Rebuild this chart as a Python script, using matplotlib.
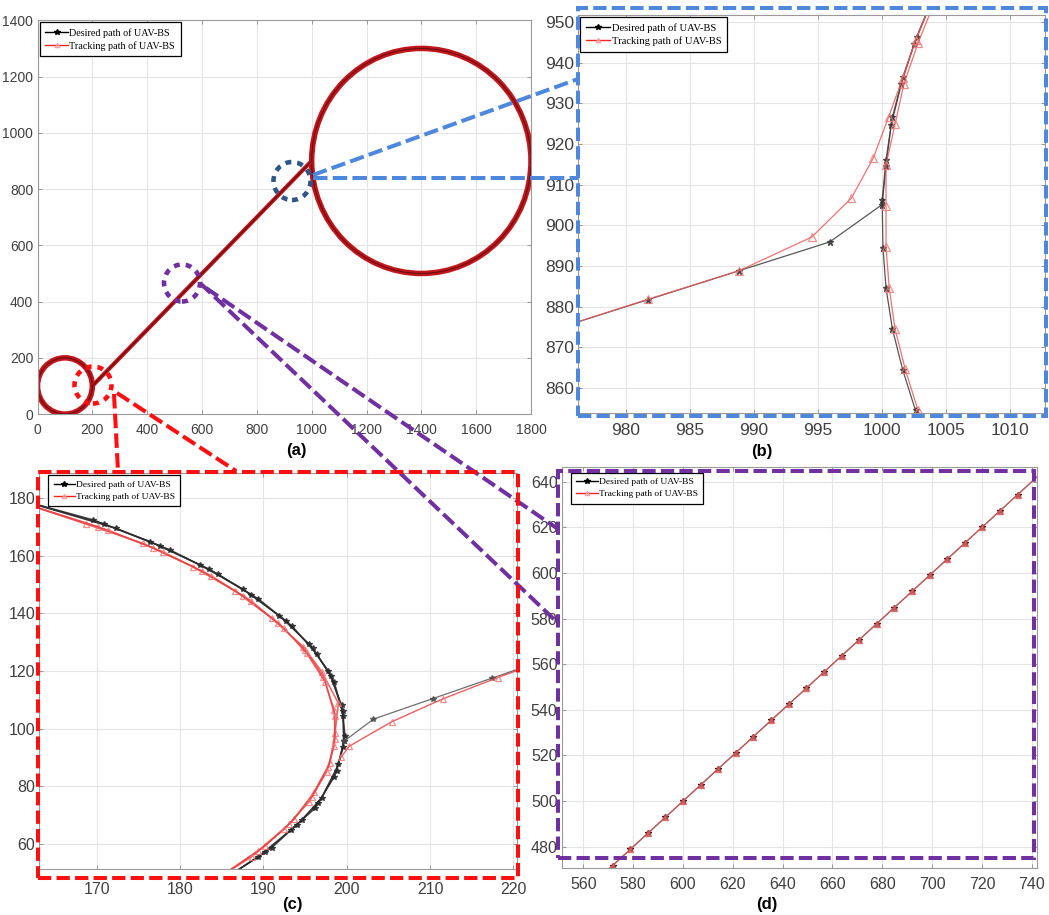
import matplotlib
matplotlib.use('Agg')
import matplotlib.pyplot as plt
from matplotlib.lines import Line2D
from matplotlib.patches import Circle, Ellipse, Rectangle

W, H = 1049, 915

# ---------------- panel (a): whole trajectory ----------------
small_circle = [100, 100, 100]      # centre x, centre y, radius
big_circle = [1400, 900, 400]
leg_x = [200, 1000]
leg_y = [100, 900]

# ---------------- panel (b): joining the big circle ----------------
b_des1_x = [974.6, 981.7, 988.8, 995.9, 1000.0, 1000.3, 1000.7, 1001.5, 1002.5, 1003.8]
b_des1_y = [874.6, 881.7, 888.8, 895.9, 905.1, 914.7, 924.6, 934.8, 944.6, 954.6]
b_des2_x = [1004.0, 1002.7, 1001.6, 1000.8, 1000.3, 1000.0, 1000.06, 1000.3, 1000.8, 1001.6, 1002.6, 1003.9]
b_des2_y = [956.4, 946.4, 936.4, 926.6, 916.1, 906.2, 894.5, 884.6, 874.5, 864.5, 854.5, 844.5]
b_trk1_x = [974.6, 981.7, 988.8, 994.5, 997.6, 999.3, 1000.5, 1001.6, 1002.6, 1003.9]
b_trk1_y = [874.6, 881.8, 888.8, 897.1, 906.7, 916.5, 926.6, 936.2, 945.5, 955.3]
b_trk2_x = [1004.1, 1002.8, 1001.7, 1001.0, 1000.3, 1000.3, 1000.3, 1000.55, 1001.0, 1001.8, 1002.8, 1004.0]
b_trk2_y = [955.0, 944.8, 934.8, 924.8, 914.9, 904.7, 894.6, 884.6, 874.6, 864.6, 854.5, 844.5]

# ---------------- panel (c): leaving the small circle ----------------
c_des_x = [
    [160.0, 169.6, 176.4, 182.4, 187.6, 191.9, 195.5, 197.8, 199.4, 199.8, 199.0, 197.0, 194.6, 191.0, 185.0],
    [160.0, 170.9, 177.6, 183.5, 188.5, 192.7, 195.9, 198.1, 199.5, 199.7, 198.8, 196.6, 194.0, 190.2, 185.0],
    [160.0, 172.3, 178.8, 184.5, 189.4, 193.4, 196.4, 198.5, 199.6, 199.6, 198.5, 196.2, 193.3, 189.3, 185.0],
]
c_des_y = [
    [180.0, 172.4, 164.9, 156.8, 148.3, 139.2, 129.3, 120.0, 108.1, 97.5, 87.6, 76.1, 68.3, 58.7, 47.3],
    [180.0, 171.0, 163.4, 155.3, 146.5, 137.4, 127.9, 118.4, 106.2, 95.7, 85.4, 74.1, 66.6, 57.1, 47.3],
    [180.0, 169.5, 162.0, 153.7, 145.0, 135.7, 125.9, 116.3, 104.4, 93.7, 83.3, 72.4, 64.9, 55.4, 47.3],
]
c_trk_x = [
    [159.5, 168.7, 175.5, 181.5, 186.6, 191.0, 194.8, 197.0, 199.0, 198.6, 198.0, 196.1, 193.7, 190.2, 184.5],
    [159.5, 170.1, 176.7, 182.6, 187.5, 191.8, 195.0, 197.2, 198.5, 198.6, 197.8, 195.8, 193.1, 189.4, 184.5],
    [159.5, 171.3, 177.9, 183.7, 188.5, 192.5, 195.2, 197.4, 198.6, 198.5, 197.6, 195.5, 192.5, 188.6, 184.5],
]
c_trk_y = [
    [179.8, 171.0, 164.3, 156.2, 147.8, 138.3, 128.4, 119.8, 108.8, 98.5, 88.2, 78.1, 68.6, 59.3, 48.0],
    [179.8, 170.1, 162.8, 154.7, 146.1, 136.6, 127.3, 118.0, 106.5, 96.5, 86.8, 76.4, 66.9, 57.7, 48.0],
    [179.8, 168.9, 161.4, 153.1, 144.4, 134.8, 126.1, 116.3, 104.4, 94.0, 85.1, 74.7, 65.1, 55.6, 48.0],
]
c_des_exit_x = [199.7, 203.2, 210.3, 217.4, 224.5]
c_des_exit_y = [95.7, 103.3, 110.4, 117.5, 124.6]
c_trk_exit_x = [199.3, 200.3, 205.4, 211.5, 218.1, 224.8]
c_trk_exit_y = [90.0, 93.9, 102.4, 110.3, 117.7, 124.8]

# ---------------- panel (d): straight leg ----------------
d_x = [564.6, 571.7, 578.8, 585.9, 592.9, 600.0, 607.1, 614.1, 621.2, 628.3, 635.4, 642.5, 649.5,
       656.6, 663.7, 670.7, 677.8, 684.8, 691.9, 699.0, 706.1, 713.1, 720.2, 727.3, 734.4, 748.5]
d_y = [464.6, 471.7, 478.8, 485.9, 492.9, 500.0, 507.1, 514.1, 521.2, 528.3, 535.4, 542.5, 549.5,
       556.6, 563.7, 570.7, 577.8, 584.8, 591.9, 599.0, 606.1, 613.1, 620.2, 627.3, 634.4, 648.5]

labels = ['Desired path of UAV-BS', 'Tracking path of UAV-BS']

plt.rcParams['font.family'] = 'Liberation Sans'

fig = plt.figure(figsize=(W / 100, H / 100), dpi=100)


def px_axes(x0, y0, x1, y1):
    return fig.add_axes([x0 / W, 1 - y1 / H, (x1 - x0) / W, (y1 - y0) / H])


def style(ax, xl, yl, xt, yt, fs, xpad):
    ax.set_xlim(xl)
    ax.set_ylim(yl)
    ax.set_xticks(xt)
    ax.set_yticks(yt)
    ax.grid(True, color='#e4e4e4', lw=0.8)
    ax.set_axisbelow(True)
    ax.tick_params(direction='in', length=3, width=0.6, colors='#8a8a8a',
                   labelcolor='#404040', labelsize=fs, top=True, right=True, pad=3)
    ax.tick_params(axis='x', pad=xpad)
    for s in ax.spines.values():
        s.set_color('#9a9a9a')
        s.set_linewidth(0.8)


def add_legend(ax, fs, anchor):
    h1 = Line2D([], [], color='k', lw=1, marker='*', ms=4)
    h2 = Line2D([], [], color='#ff2020', lw=1, marker='^', ms=3, mfc='none', mec='#f7a0a0')
    leg = ax.legend([h1, h2], labels, loc='upper left', bbox_to_anchor=anchor,
                    prop={'family': 'Liberation Serif', 'size': fs}, frameon=True,
                    fancybox=False, edgecolor='k', framealpha=1, handlelength=2.3,
                    handletextpad=0.1, borderpad=0.55, labelspacing=0.35, borderaxespad=0.2)
    leg.get_frame().set_linewidth(0.9)


# (a)
ax_a = px_axes(37.5, 20.3, 531, 414.1)
style(ax_a, (0, 1800), (0, 1400), range(0, 1801, 200), range(0, 1401, 200), 10, 6.5)
for cx, cy, r in [small_circle, big_circle]:
    ax_a.add_patch(Circle((cx, cy), r, fill=False, ec='#c0161c', lw=4.0))
    ax_a.add_patch(Circle((cx, cy), r, fill=False, ec='#5e0b0e', lw=0.9, alpha=0.8))
ax_a.plot(leg_x, leg_y, color='#c0161c', lw=3.0, solid_capstyle='butt')
ax_a.plot(leg_x, leg_y, color='#5e0b0e', lw=0.8)
add_legend(ax_a, 7.3, (0, 1))

# (b)
ax_b = px_axes(578.3, 15, 1045, 413.3)
style(ax_b, (976.3, 1012.7), (853.8, 951.7), range(980, 1011, 5), range(860, 951, 10), 12.5, 7)
for xs, ys in [(b_des1_x, b_des1_y), (b_des2_x, b_des2_y)]:
    ax_b.plot(xs, ys, color='#3a3a3a', lw=0.9, alpha=0.85, marker='*', ms=4.5)
for xs, ys in [(b_trk1_x, b_trk1_y), (b_trk2_x, b_trk2_y)]:
    ax_b.plot(xs, ys, color='#ee5a5a', lw=0.9, alpha=0.85, marker='^', ms=5.5,
              mfc='none', mec='#f07a7a', mew=0.9)
add_legend(ax_b, 7.6, (0, 1))

# (c)
ax_c = px_axes(39.3, 473.3, 516.7, 869.3)
style(ax_c, (163.1, 220.4), (51.2, 188.6), range(170, 221, 10), range(60, 181, 20), 11.5, 9)
for xs, ys in zip(c_des_x, c_des_y):
    ax_c.plot(xs, ys, color='#2a2a2a', lw=1.1, alpha=0.85, marker='*', ms=4)
ax_c.plot(c_des_exit_x, c_des_exit_y, color='#4a4a4a', lw=0.9, alpha=0.8, marker='*', ms=4)
for xs, ys in zip(c_trk_x, c_trk_y):
    ax_c.plot(xs, ys, color='#ec4444', lw=1.1, alpha=0.85, marker='^', ms=5,
              mfc='none', mec='#f07a7a', mew=0.9)
ax_c.plot(c_trk_exit_x, c_trk_exit_y, color='#ec4444', lw=1.0, alpha=0.85, marker='^', ms=5,
          mfc='none', mec='#f07a7a', mew=0.9)
add_legend(ax_c, 6.8, (0.015, 1))

# (d)
ax_d = px_axes(561.7, 466.7, 1036.7, 867.7)
style(ax_d, (551.3, 742), (470.8, 646.6), range(560, 741, 20), range(480, 641, 20), 11.5, 7)
ax_d.plot(d_x, d_y, color='#4a1010', lw=0.8, marker='*', ms=4)
ax_d.plot(d_x, d_y, color='#e07070', lw=1.0, marker='^', ms=4.5, mfc='#e07070',
          mec='#d05050', alpha=0.75)
add_legend(ax_d, 6.8, (0.015, 0.99))

# panel captions
for txt, x, y in [('(a)', 296, 451), ('(b)', 762, 452), ('(c)', 292, 905), ('(d)', 767, 905)]:
    fig.text(x / W, 1 - y / H, txt, ha='center', va='center', fontsize=12, fontweight='bold')


# zoom decorations drawn in figure pixels
def fline(p0, p1, color):
    fig.add_artist(Line2D([p0[0] / W, p1[0] / W], [1 - p0[1] / H, 1 - p1[1] / H],
                          transform=fig.transFigure, color=color, lw=2.9,
                          ls=(0, (3.6, 1.3)), zorder=20))


def frect(x0, y0, x1, y1, color):
    fig.add_artist(Rectangle((x0 / W, 1 - y1 / H), (x1 - x0) / W, (y1 - y0) / H,
                             transform=fig.transFigure, fill=False, ec=color, lw=2.9,
                             ls=(0, (3.3, 1.3)), zorder=20))


def fell(cx, cy, w, h, color):
    fig.add_artist(Ellipse((cx / W, 1 - cy / H), w / W, h / H, transform=fig.transFigure,
                           fill=False, ec=color, lw=3.3, ls=(0, (1.3, 1.3)), zorder=20))


blue, dblue, purple, red = '#4d88dc', '#2f5686', '#7030a0', '#ff0f0f'
frect(578, 8, 1046, 416, blue)
fline((313, 175), (578, 79), blue)
fline((313, 178), (578, 178), blue)
fell(292, 181, 37, 38, dblue)

frect(558, 471, 1034, 858, purple)
fline((200, 283), (558, 623), purple)
fline((206, 288), (558, 529), purple)
fell(182, 283, 36, 37, purple)

frect(38, 472, 518, 878, red)
fline((114, 394), (118, 471), red)
fline((117, 393), (236, 471), red)
fell(93, 385, 37, 37, red)

fig.savefig('out.png', dpi=100)
